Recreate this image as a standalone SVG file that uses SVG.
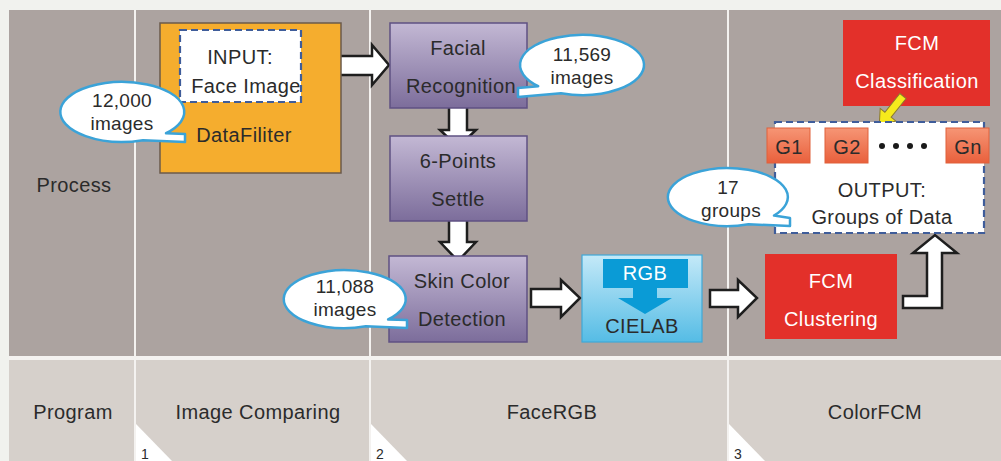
<svg xmlns="http://www.w3.org/2000/svg" width="1001" height="461" viewBox="0 0 1001 461">
<defs>
<linearGradient id="gPurple" x1="0" y1="0" x2="0" y2="1"><stop offset="0" stop-color="#c3b8d4"/><stop offset="1" stop-color="#7c6d9b"/></linearGradient>
<linearGradient id="gBlue" x1="0" y1="0" x2="0" y2="1"><stop offset="0" stop-color="#c4e9f8"/><stop offset="1" stop-color="#55bce5"/></linearGradient>
<linearGradient id="gOrange" x1="0" y1="0" x2="0" y2="1"><stop offset="0" stop-color="#f69575"/><stop offset="1" stop-color="#e9603c"/></linearGradient>
<style>
text{font-family:"Liberation Sans","Noto Sans",sans-serif;font-size:20px;letter-spacing:0.4px;fill:#2b2b2b;text-anchor:middle}
.c{font-size:19px;letter-spacing:0.3px}
.n{font-size:14px;letter-spacing:0}
.w{fill:#ffffff}
.purple{fill:url(#gPurple);stroke:#5f5183;stroke-width:1.5}
.red{fill:#e3302a}
.g{fill:url(#gOrange);stroke:#e0603a;stroke-width:1}
.dash{fill:#ffffff;stroke:#3f5d9a;stroke-width:2.2;stroke-dasharray:7 4}
.callout{fill:#ffffff;stroke:#3ba3d8;stroke-width:2.5;stroke-linejoin:round}
.arrow{fill:#ffffff;stroke:#1e1e1e;stroke-width:2.5;stroke-linejoin:miter}
.sep{fill:#f4f2f0}
</style>
</defs>
<rect width="1001" height="461" fill="#f1f2ee"/>
<g id="background">
<rect x="9" y="10" width="992" height="346" fill="#aca3a0"/>
<rect x="9" y="360" width="992" height="101" fill="#d6d0cb"/>
<rect class="sep" x="9" y="356" width="992" height="4"/>
<rect class="sep" x="134" y="10" width="2" height="451"/>
<rect class="sep" x="369" y="10" width="2" height="451"/>
<rect class="sep" x="727" y="10" width="2" height="451"/>
<polygon class="w" points="136,424 136,461 172,461"/>
<polygon class="w" points="371,424 371,461 407,461"/>
<polygon class="w" points="729,424 729,461 765,461"/>
<text class="n" x="145" y="459">1</text>
<text class="n" x="380" y="459">2</text>
<text class="n" x="738" y="459">3</text>
<text x="74" y="192">Process</text>
<text x="73" y="419">Program</text>
<text x="258" y="419">Image Comparing</text>
<text x="552" y="419">FaceRGB</text>
<text x="875" y="419">ColorFCM</text>
</g>
<g id="connectors">
<polygon class="arrow" points="323,56 372,56 372,45 389,65 372,85 372,75 323,75"/>
<polygon class="arrow" points="449,104 467,104 467,130 476,130 458,147 440,130 449,130"/>
<polygon class="arrow" points="449,217 467,217 467,242 476,242 458,261 440,242 449,242"/>
<polygon class="arrow" points="531,289 561,289 561,280 580,298 561,317 561,307 531,307"/>
<polygon class="arrow" points="710,290 738,290 738,280 757,298 738,317 738,307 710,307"/>
<polygon class="arrow" points="903,296 927,296 927,253 913,253 935,235 957,253 942,253 942,308 903,308"/>
</g>
<g id="datafiliter">
<rect x="160" y="23" width="181" height="150" fill="#f5ad2e" stroke="#6b5b4b" stroke-width="1.5"/>
<text x="244" y="142">DataFiliter</text>
</g>
<g id="input">
<rect class="dash" x="180" y="30" width="121" height="72"/>
<text x="240" y="64">INPUT:</text>
<text x="246" y="93">Face Image</text>
</g>
<g id="facial">
<rect class="purple" x="390" y="23" width="137" height="85"/>
<text x="458" y="55">Facial</text>
<text x="461" y="93">Recognition</text>
</g>
<g id="sixpoints">
<rect class="purple" x="390" y="136" width="137" height="85"/>
<text x="458" y="168">6-Points</text>
<text x="458" y="206">Settle</text>
</g>
<g id="skin">
<rect class="purple" x="389" y="256" width="138" height="86"/>
<text x="462" y="288">Skin Color</text>
<text x="462" y="326">Detection</text>
</g>
<g id="cielab">
<rect x="582" y="255" width="120" height="87" fill="url(#gBlue)" stroke="#3fa8d8" stroke-width="1.2"/>
<polygon points="603,259 688,259 688,288 657,288 657,298 672,298 645,314 618,298 633,298 633,288 603,288" fill="#0a9bd6"/>
<text class="w" x="645" y="280">RGB</text>
<text x="642" y="333">CIELAB</text>
</g>
<g id="fcm-clustering">
<rect class="red" x="765" y="254" width="132" height="85"/>
<text class="w" x="831" y="288">FCM</text>
<text class="w" x="831" y="326">Clustering</text>
</g>
<g id="fcm-classification">
<rect class="red" x="843" y="20" width="147" height="86"/>
<text class="w" x="917" y="50">FCM</text>
<text class="w" x="917" y="88">Classification</text>
<polygon points="0,-4 24,-4 24,-10 38,0 24,10 24,4 0,4" transform="translate(903,96) rotate(128.7)" fill="#f6ea1c" stroke="#8a7a30" stroke-width="1"/>
</g>
<g id="output">
<rect class="dash" x="775" y="122" width="209" height="111"/>
<rect class="g" x="767" y="128" width="43" height="35"/>
<rect class="g" x="825" y="128" width="43" height="35"/>
<rect class="g" x="946" y="128" width="43" height="35"/>
<text x="789" y="154">G1</text>
<text x="847" y="154">G2</text>
<text x="968" y="154">Gn</text>
<circle cx="882" cy="146" r="3" fill="#1a1a1a"/>
<circle cx="896" cy="146" r="3" fill="#1a1a1a"/>
<circle cx="910" cy="146" r="3" fill="#1a1a1a"/>
<circle cx="924" cy="146" r="3" fill="#1a1a1a"/>
<text x="882" y="197">OUTPUT:</text>
<text x="882" y="224">Groups of Data</text>
</g>
<g id="callout-12000">
<path class="callout" d="M143,140.2 L185,142 L185,134 L166,133.2 A62,30 0 1 0 143,140.2 Z"/>
<text class="c" x="122" y="107">12,000</text>
<text class="c" x="122" y="130">images</text>
</g>
<g id="callout-11569">
<path class="callout" d="M561,93.2 L518,97 L518,88 L538.2,86.2 A62,30 0 1 1 561,93.2 Z"/>
<text class="c" x="582" y="61">11,569</text>
<text class="c" x="582" y="84">images</text>
</g>
<g id="callout-11088">
<path class="callout" d="M365.9,326.3 L407,328 L407,320 L388.1,319.5 A61,29 0 1 0 365.9,326.3 Z"/>
<text class="c" x="345" y="293">11,088</text>
<text class="c" x="345" y="316">images</text>
</g>
<g id="callout-17">
<path class="callout" d="M748.5,224.3 L790,226 L790,218 L774,215.6 A60,29 0 1 0 748.5,224.3 Z"/>
<text class="c" x="728" y="194">17</text>
<text class="c" x="731" y="217">groups</text>
</g>
</svg>
